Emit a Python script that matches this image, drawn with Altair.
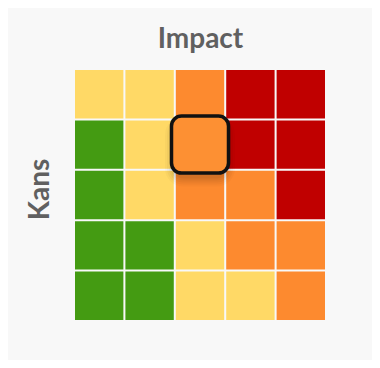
import altair as alt
import pandas as pd

impact = [1, 2, 3, 4, 5]
kans = [5, 4, 3, 2, 1]  # top to bottom
levels = [
    ["Y", "Y", "O", "R", "R"],
    ["G", "Y", "O", "R", "R"],
    ["G", "Y", "O", "O", "R"],
    ["G", "G", "Y", "O", "O"],
    ["G", "G", "Y", "Y", "O"],
]
level_names = ["G", "Y", "O", "R"]
level_colors = ["#449b12", "#ffd966", "#fd8a2f", "#c00000"]
highlight_impact = 3
highlight_kans = 4

rows = []
for r, k in enumerate(kans):
    for c, i in enumerate(impact):
        rows.append({"impact": i, "kans": k, "level": levels[r][c]})
df = pd.DataFrame(rows)
hl = pd.DataFrame([{"impact": highlight_impact, "kans": highlight_kans}])

xs = alt.X("impact:O", scale=alt.Scale(domain=impact, paddingInner=0.04, paddingOuter=0),
           axis=alt.Axis(orient="top", title="Impact", labels=False, ticks=False, domain=False,
                         titleFontSize=28, titleFont="Lato", titleFontWeight="bold",
                         titleColor="#606060", titlePadding=17))
ys = alt.Y("kans:O", scale=alt.Scale(domain=kans, paddingInner=0.04, paddingOuter=0),
           axis=alt.Axis(title="Kans", labels=False, ticks=False, domain=False,
                         titleFontSize=28, titleFont="Lato", titleFontWeight="bold",
                         titleColor="#606060", titlePadding=21, titleY=119))

cells = alt.Chart(df).mark_rect().encode(
    x=xs, y=ys,
    color=alt.Color("level:N", scale=alt.Scale(domain=level_names, range=level_colors), legend=None),
)

shadows = []
for w, r, op, off in [(70, 18, 0.025, 7), (66, 16, 0.03, 7), (62, 14, 0.035, 7),
                      (58, 12, 0.04, 7), (54, 10, 0.045, 7)]:
    shadows.append(alt.Chart(hl).mark_rect(width=w, height=w, cornerRadius=r, color="#000000",
                                           opacity=op, yOffset=off).encode(x="impact:O", y="kans:O"))
box = alt.Chart(hl).mark_rect(width=57, height=57, cornerRadius=10, color="#fd9033",
                              stroke="#111111", strokeWidth=3.5).encode(x="impact:O", y="kans:O")

chart = alt.layer(cells, *shadows, box).properties(
    width=250, height=250,
    background="#f8f8f8",
    padding={"left": 67, "top": 62, "right": 47, "bottom": 40},
    autosize=alt.AutoSizeParams(type="none"),
).configure_view(stroke=None)

chart.save("out.html", embed_options={"renderer": "svg", "actions": False})
